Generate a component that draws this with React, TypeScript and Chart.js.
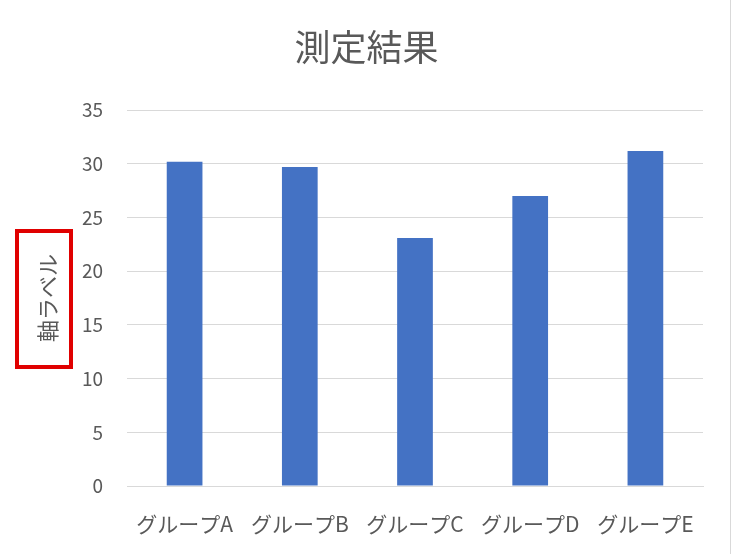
import React, { useEffect, useRef } from "react";
import { Chart, registerables } from "chart.js";

Chart.register(...registerables);

const categories = ["グループA", "グループB", "グループC", "グループD", "グループE"];
const values = [30.2, 29.7, 23.1, 27.0, 31.2];
const chartTitle = "測定結果";
const yAxisTitle = "軸ラベル";
const yMin = 0;
const yMax = 35;
const yStep = 5;

const FONT = "'Noto Sans CJK JP', 'Noto Sans', sans-serif";
const TEXT = "#595959";
const GRID = "#d9d9d9";

const decorPlugin = {
  id: "decor",
  afterDraw(chart: any) {
    const ctx = chart.ctx;
    ctx.save();
    // red highlight box around the y axis title
    ctx.strokeStyle = "#e00000";
    ctx.lineWidth = 4;
    ctx.strokeRect(17, 231, 54, 136);
    // light right border of the chart frame
    ctx.strokeStyle = "#d9d9d9";
    ctx.lineWidth = 1;
    ctx.beginPath();
    ctx.moveTo(730.5, 0);
    ctx.lineTo(730.5, chart.height);
    ctx.stroke();
    ctx.restore();
  },
};

export default function App() {
  const ref = useRef<HTMLCanvasElement | null>(null);
  useEffect(() => {
    if (!ref.current) return;
    const chart = new Chart(ref.current, {
      type: "bar",
      data: {
        labels: categories,
        datasets: [
          {
            data: values,
            backgroundColor: "#4472C4",
            borderWidth: 0,
            categoryPercentage: 1,
            barPercentage: 0.31,
            yAxisID: "y",
          },
        ],
      },
      options: {
        responsive: false,
        animation: false,
        layout: { padding: { left: 0, right: 0, top: 0, bottom: 0 } },
        plugins: {
          legend: { display: false },
          tooltip: { enabled: false },
          title: {
            display: true,
            text: chartTitle,
            color: TEXT,
            font: { family: FONT, size: 36, weight: "normal", lineHeight: 1.2 },
            padding: { top: 26, bottom: 41 },
          },
        },
        scales: {
          x: {
            grid: { display: false, drawTicks: false },
            border: { display: true, color: GRID, width: 1 },
            ticks: {
              color: TEXT,
              font: { family: FONT, size: 21, lineHeight: 1.2 },
              padding: 25,
              maxRotation: 0,
              autoSkip: false,
            },
            afterFit: (scale: any) => {
              scale.height = 68;
            },
          },
          y: {
            min: yMin,
            max: yMax,
            grid: { color: GRID, lineWidth: 1, drawTicks: false },
            border: { display: false },
            ticks: {
              stepSize: yStep,
              color: TEXT,
              font: { family: FONT, size: 19, lineHeight: 1.2 },
              padding: 24,
            },
            title: {
              display: true,
              text: yAxisTitle,
              color: TEXT,
              font: { family: FONT, size: 22, lineHeight: 1.2 },
              padding: { top: 34, bottom: 0 },
            },
            afterFit: (scale: any) => {
              scale.width = 127;
            },
          },
          rightSpace: {
            type: "linear",
            position: "right",
            min: yMin,
            max: yMax,
            grid: { display: false, drawTicks: false },
            border: { display: false },
            ticks: { display: false },
            afterFit: (scale: any) => {
              scale.width = 30;
            },
          },
        },
      },
      plugins: [decorPlugin],
    });
    return () => chart.destroy();
  }, []);
  return (
    <div style={{ position: "fixed", left: 0, top: 0, width: 733, height: 554, background: "#fff" }}>
      <canvas ref={ref} width={733} height={554} />
    </div>
  );
}
